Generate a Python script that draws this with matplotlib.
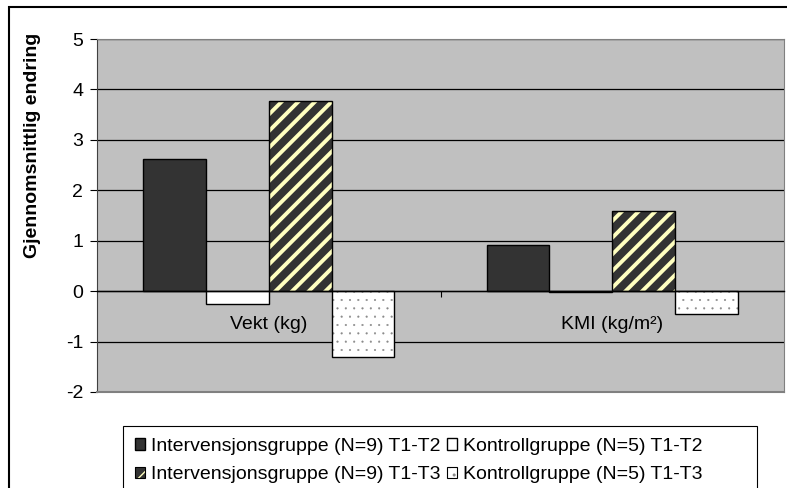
import numpy as np
import matplotlib
matplotlib.use('Agg')
from matplotlib import pyplot as plt
from matplotlib.patches import Patch, Rectangle
from matplotlib.legend_handler import HandlerTuple

plt.rcParams['font.family'] = ['Liberation Sans', 'DejaVu Sans']
plt.rcParams['axes.unicode_minus'] = False

categories = ['Vekt (kg)', 'KMI (kg/m²)']
int_t1t2 = [2.62, 0.92]
kon_t1t2 = [-0.26, -0.02]
int_t1t3 = [3.77, 1.58]
kon_t1t3 = [-1.30, -0.45]
labels = ['Intervensjonsgruppe (N=9) T1-T2', 'Kontrollgruppe (N=5) T1-T2',
          'Intervensjonsgruppe (N=9) T1-T3', 'Kontrollgruppe (N=5) T1-T3']

fig = plt.figure(figsize=(7.87, 4.88), dpi=100)
ax = fig.add_axes([97/787, 1-392/488, 687/787, 353/488])
ax.set_facecolor('#c0c0c0')

x = np.arange(len(categories))
w = 0.183

# solid dark bars
b1 = ax.bar(x - 1.5*w, int_t1t2, w, color='#333333', edgecolor='black', lw=1, zorder=3)
# white bars
b2 = ax.bar(x - 0.5*w, kon_t1t2, w, color='white', edgecolor='black', lw=1, zorder=3)
# striped bars: yellow hatch on dark, then a black outline on top
with plt.rc_context({'hatch.linewidth': 2.8}):
    b3 = ax.bar(x + 0.5*w, int_t1t3, w, color='#333333', edgecolor='#ffffc0',
                hatch='//', lw=0, zorder=3)
ax.bar(x + 0.5*w, int_t1t3, w, fill=False, edgecolor='black', lw=1, zorder=4)
# dotted bars
with plt.rc_context({'hatch.linewidth': 0.3}):
    b4 = ax.bar(x + 1.5*w, kon_t1t3, w, color='white', edgecolor='#8a8a8a',
                hatch='..', lw=0, zorder=3)
ax.bar(x + 1.5*w, kon_t1t3, w, fill=False, edgecolor='black', lw=1, zorder=4)

ax.set_xlim(-0.5, 1.5)
ax.set_ylim(-2, 5)
ax.set_yticks(range(-2, 6))
ax.yaxis.grid(True, color='black', lw=0.9, zorder=1)
ax.tick_params(axis='y', labelsize=14, length=5, width=0.8, direction='out', pad=5)

# category axis runs along y=0
ax.spines['bottom'].set_position(('data', 0))
ax.spines['bottom'].set_zorder(5)
ax.spines['bottom'].set_linewidth(1)
ax.set_xticks([0.5])
ax.set_xticklabels([])
ax.set_xticks(x, minor=True)
ax.set_xticklabels(categories, minor=True, fontsize=14)
ax.tick_params(axis='x', which='major', length=4, width=0.8, direction='out')
ax.tick_params(axis='x', which='minor', length=0, pad=18)
for s in ['top', 'right']:
    ax.spines[s].set_color('#808080')
ax.spines['left'].set_color('#404040')

# frame line across the bottom of the plot area
ax.axhline(-2, color='#808080', lw=1.5, zorder=5, clip_on=False)

ax.set_ylabel('Gjennomsnittlig endring', fontsize=14, fontweight='bold')
ax.yaxis.set_label_coords(-0.082, 0.70)

# outer chart frame
fig.patches.append(Rectangle((9/787, -0.1), 1.0, 1.1 - 7/488, transform=fig.transFigure,
                             fill=False, edgecolor='black', lw=1.5))
# legend frame
fig.patches.append(Rectangle((123/787, -0.05), (757-123)/787, 0.05 + 1 - 426/488,
                             transform=fig.transFigure, fill=False,
                             edgecolor='black', lw=0.8))

h_out = Patch(fill=False, edgecolor='black', lw=0.8)
handles = [b1, (b3, h_out), b2, (b4, h_out)]
leg_labels = [labels[0], labels[2], labels[1], labels[3]]
leg = fig.legend(handles, leg_labels, ncol=2, loc='upper left',
                 bbox_to_anchor=(123/787, 1-426/488), fontsize=14,
                 handlelength=0.55, handleheight=0.55, handletextpad=0.3,
                 columnspacing=0.3, labelspacing=0.6, borderpad=0.6,
                 borderaxespad=0, frameon=False,
                 handler_map={tuple: HandlerTuple(ndivide=1)})

fig.savefig('out.png', dpi=100)
